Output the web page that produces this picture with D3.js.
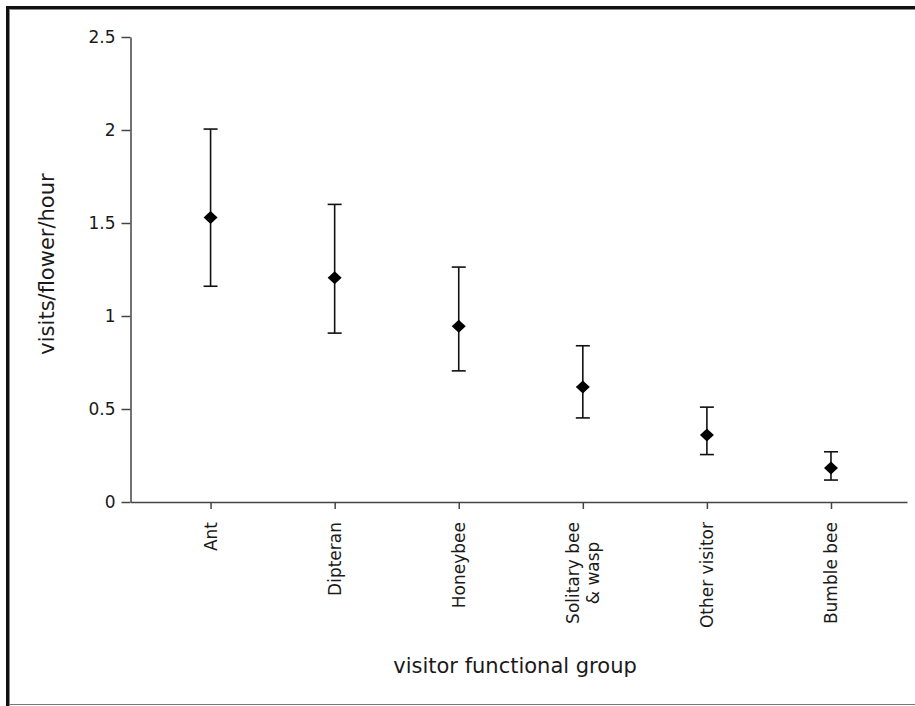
<!DOCTYPE html>
<html>
<head>
    <meta charset="utf-8">
    <title>Visits per flower per hour</title>
    <script type="text/javascript" src="https://cdn.jsdelivr.net/npm/d3@7"></script>
    <style type="text/css">
        body { margin: 0; background: #fff; }
        text { font-family: "DejaVu Sans", sans-serif; fill: #1a1a1a; }
        .axis path, .axis line { stroke: #444; stroke-width: 1.5; }
        .axis text { font-size: 17px; fill: #1a1a1a; }
    </style>
</head>
<body>
<script type="text/javascript">
    var groups = ["Ant", "Dipteran", "Honeybee", "Solitary bee\n& wasp", "Other visitor", "Bumble bee"],
        means = [1.53, 1.205, 0.945, 0.618, 0.36, 0.183],
        lower = [1.16, 0.908, 0.705, 0.452, 0.255, 0.118],
        upper = [2.005, 1.6, 1.263, 0.84, 0.51, 0.27],
        yTicks = [0, 0.5, 1, 1.5, 2, 2.5];

    var w = 915, h = 706;

    var svg = d3.select("body").append("svg")
        .attr("width", w)
        .attr("height", h);

    // window frame
    svg.append("rect").attr("x", 6).attr("y", 6).attr("width", w - 6).attr("height", 3).attr("fill", "#111");
    svg.append("rect").attr("x", 6).attr("y", 6).attr("width", 3).attr("height", h - 6).attr("fill", "#111");
    svg.append("line").attr("x1", 9).attr("x2", w).attr("y1", 9.5).attr("y2", 9.5).attr("stroke", "#888");
    svg.append("line").attr("x1", 9.5).attr("x2", 9.5).attr("y1", 9).attr("y2", h).attr("stroke", "#888");
    svg.append("line").attr("x1", 9).attr("x2", w).attr("y1", 704.5).attr("y2", 704.5).attr("stroke", "#777");

    var x = d3.scalePoint()
        .domain(groups)
        .range([130.5, 907])
        .padding(0.629)
        .align(0.513);

    var y = d3.scaleLinear()
        .domain([0, 2.5])
        .range([502, 37]);

    var data = groups.map(function (g, i) {
        return {g: g, m: means[i], lo: lower[i], hi: upper[i]};
    });

    // y axis
    svg.append("g")
        .attr("class", "axis")
        .attr("transform", "translate(130.5,0)")
        .call(d3.axisLeft(y).tickValues(yTicks).tickFormat(d3.format("")).tickSize(9).tickSizeOuter(0).tickPadding(6));

    // x axis, labels rotated, multi-line labels centred within their block
    var xAxis = svg.append("g")
        .attr("class", "axis")
        .attr("transform", "translate(0,502)")
        .call(d3.axisBottom(x).tickSize(7).tickSizeOuter(0).tickFormat(""));

    xAxis.selectAll(".tick").each(function (d) {
        var lines = d.split("\n"),
            off = (lines.length - 1) * 20 / 2,
            t = d3.select(this).append("text")
                .attr("transform", "translate(0,20) rotate(-90)")
                .attr("text-anchor", "end");
        lines.forEach(function (l, i) {
            t.append("tspan")
                .attr("x", 0)
                .attr("y", -off + i * 20)
                .attr("dy", "0.35em")
                .text(l);
        });
        if (lines.length > 1) {
            var widths = [];
            t.selectAll("tspan").each(function () { widths.push(this.getComputedTextLength()); });
            var maxW = d3.max(widths);
            t.selectAll("tspan").attr("x", function (_, i) { return -(maxW - widths[i]) / 2; });
        }
    });

    // error bars
    var bars = svg.append("g").selectAll("g")
        .data(data)
        .enter().append("g")
        .attr("stroke", "#111")
        .attr("stroke-width", 1.6);

    bars.append("line")
        .attr("x1", function (d) { return x(d.g); })
        .attr("x2", function (d) { return x(d.g); })
        .attr("y1", function (d) { return y(d.lo); })
        .attr("y2", function (d) { return y(d.hi); });

    bars.append("line")
        .attr("x1", function (d) { return x(d.g) - 7; })
        .attr("x2", function (d) { return x(d.g) + 7; })
        .attr("y1", function (d) { return y(d.hi); })
        .attr("y2", function (d) { return y(d.hi); });

    bars.append("line")
        .attr("x1", function (d) { return x(d.g) - 7; })
        .attr("x2", function (d) { return x(d.g) + 7; })
        .attr("y1", function (d) { return y(d.lo); })
        .attr("y2", function (d) { return y(d.lo); });

    // diamonds
    svg.append("g").selectAll("path")
        .data(data)
        .enter().append("path")
        .attr("d", "M0,-6.5L7,0L0,6.5L-7,0Z")
        .attr("fill", "#000")
        .attr("transform", function (d) { return "translate(" + x(d.g) + "," + y(d.m) + ")"; });

    // axis titles
    svg.append("text")
        .attr("x", 515)
        .attr("y", 673)
        .attr("text-anchor", "middle")
        .style("font-size", "21px")
        .text("visitor functional group");

    svg.append("text")
        .attr("transform", "translate(54,264) rotate(-90)")
        .attr("text-anchor", "middle")
        .style("font-size", "21px")
        .text("visits/flower/hour");
</script>
</body>
</html>
